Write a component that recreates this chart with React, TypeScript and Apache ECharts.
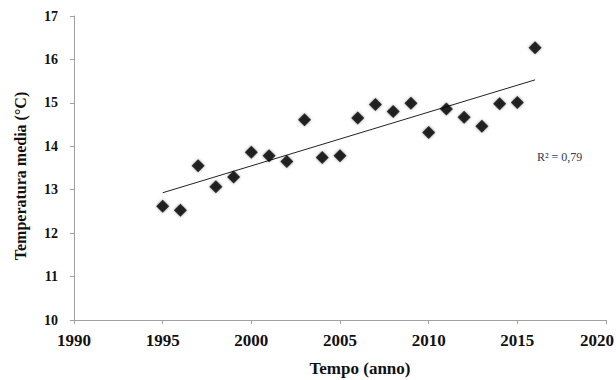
import React, { useEffect, useRef } from "react";
import * as echarts from "echarts";

const years = [1995, 1996, 1997, 1998, 1999, 2000, 2001, 2002, 2003, 2004, 2005, 2006, 2007, 2008, 2009, 2010, 2011, 2012, 2013, 2014, 2015, 2016];
const temps = [12.62, 12.53, 13.55, 13.07, 13.29, 13.86, 13.78, 13.65, 14.61, 13.74, 13.78, 14.65, 14.96, 14.8, 14.99, 14.32, 14.86, 14.67, 14.46, 14.98, 15.01, 16.27];
const trendYears = [1995, 2016];
const trendValues = [12.93, 15.53];
const r2Label = "R² = 0,79";
const xName = "Tempo (anno)";
const yName = "Temperatura media (°C)";

const FONT = "'Liberation Serif', 'Times New Roman', serif";

export default function App() {
  const ref = useRef<HTMLDivElement>(null);
  useEffect(() => {
    document.body.style.margin = "0";
    const chart = echarts.init(ref.current!, null, { renderer: "svg" });
    chart.setOption({
      animation: false,
      backgroundColor: "#ffffff",
      grid: { left: 74, right: 10, top: 16, bottom: 60, containLabel: false, outerBoundsMode: "none" },
      xAxis: {
        type: "value",
        min: 1990,
        max: 2020,
        interval: 5,
        splitLine: { show: false },
        axisLine: { lineStyle: { color: "#a0a0a0", width: 1 } },
        axisTick: { show: true, length: 4, lineStyle: { color: "#a0a0a0" } },
        axisLabel: {
          margin: 12,
          fontFamily: FONT,
          fontWeight: "bold",
          fontSize: 17,
          color: "#111",
          formatter: (v: number) => (v === 2020 ? `{last|${v}}` : String(v)),
          rich: {
            last: {
              fontFamily: FONT,
              fontWeight: "bold",
              fontSize: 17,
              color: "#111",
              padding: [0, 18, 0, 0],
            },
          },
        },
      },
      yAxis: {
        type: "value",
        min: 10,
        max: 17,
        interval: 1,
        splitLine: { show: false },
        axisLine: { show: true, lineStyle: { color: "#a0a0a0", width: 1 } },
        axisTick: { show: true, length: 4, lineStyle: { color: "#a0a0a0" } },
        axisLabel: {
          margin: 16,
          fontFamily: FONT,
          fontWeight: "bold",
          fontSize: 14,
          color: "#111",
        },
      },
      graphic: [
        {
          type: "text",
          x: 360,
          y: 368,
          style: {
            text: xName,
            font: `bold 17px ${FONT}`,
            fill: "#111",
            textAlign: "center",
            textVerticalAlign: "middle",
          },
        },
        {
          type: "text",
          x: 20,
          y: 176,
          rotation: Math.PI / 2,
          style: {
            text: yName,
            font: `bold 16px ${FONT}`,
            fill: "#111",
            textAlign: "center",
            textVerticalAlign: "middle",
          },
        },
        {
          type: "text",
          x: 537,
          y: 157,
          style: {
            text: r2Label,
            font: `12px ${FONT}`,
            fill: "#2e3a55",
            textAlign: "left",
            textVerticalAlign: "middle",
          },
        },
      ],
      series: [
        {
          type: "line",
          data: trendYears.map((y, i) => [y, trendValues[i]]),
          showSymbol: false,
          symbol: "none",
          lineStyle: { color: "#222", width: 1 },
          silent: true,
          z: 1,
        },
        {
          type: "scatter",
          data: years.map((y, i) => [y, temps[i]]),
          symbol: "diamond",
          symbolSize: 13,
          itemStyle: {
            color: "#000",
            shadowBlur: 3,
            shadowColor: "rgba(0,0,0,0.5)",
          },
          z: 2,
        },
      ],
    });
    return () => chart.dispose();
  }, []);
  return <div ref={ref} style={{ width: 616, height: 380 }} />;
}
